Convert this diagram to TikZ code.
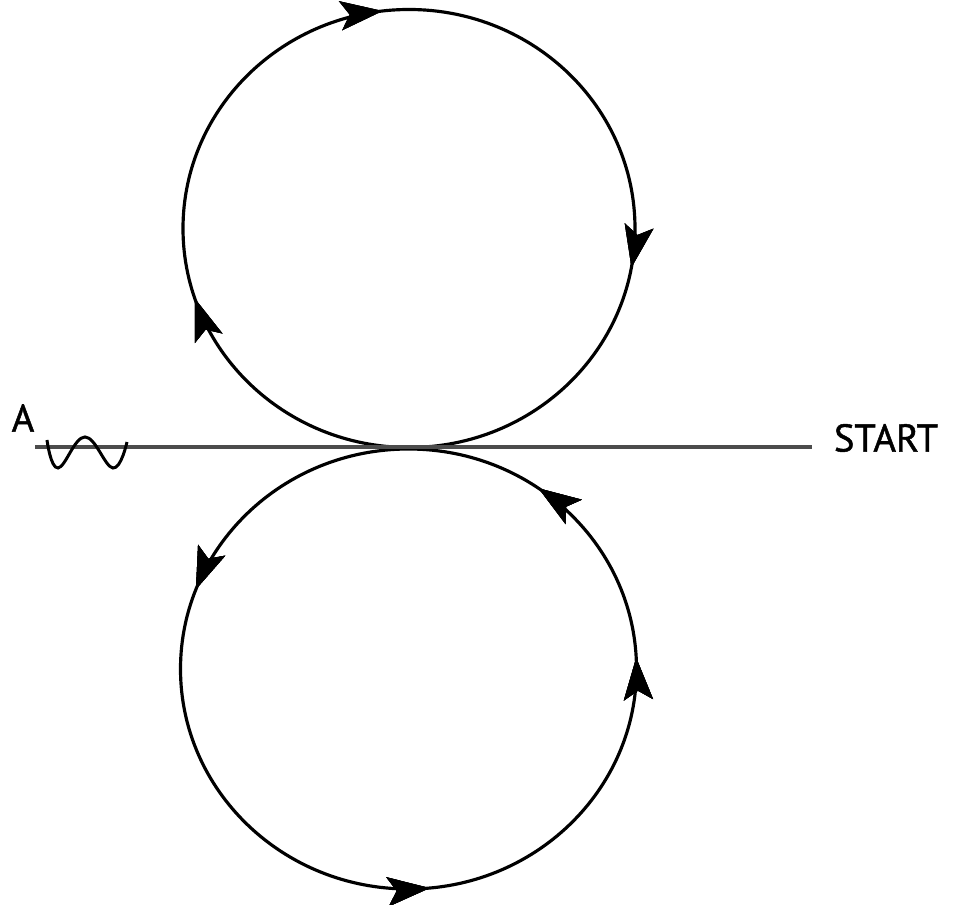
\documentclass[tikz,border=0pt]{standalone}
\usepackage{fontspec}
\newfontfamily\labelfont[FakeBold=1.2]{PT Sans}
\usepackage{tikz}
\usetikzlibrary{arrows.meta, decorations.markings}

\begin{document}
\begin{tikzpicture}[
  x=0.02cm, y=0.02cm,
  loop/.style={line width=1.8pt, black},
  baseline/.style={line width=2.2pt, black!70},
  wave/.style={line width=1.7pt, black},
  tag/.style={font=\labelfont\fontsize{22}{24}\selectfont, inner sep=0pt},
  flow/.style={decoration={markings,
      mark=at position #1 with {\arrow{Stealth[length=8.4mm, width=5.8mm, inset=1.8mm]}}},
    postaction={decorate}}
]
  \useasboundingbox (0,0) rectangle (953,905);

  % Top loop (clockwise)
  \coordinate (topT) at (409,457.5);
  \draw[loop, flow=0.199, flow=0.481, flow=0.778]
    (topT) arc[start angle=270, end angle=-90, x radius=226, y radius=219];

  % Bottom loop (counter-clockwise)
  \coordinate (botT) at (408.5,456);
  \draw[loop, flow=0.192, flow=0.515, flow=0.758, flow=0.902]
    (botT) arc[start angle=90, end angle=450, x radius=228, y radius=220];

  % Line
  \coordinate (lineW) at (35,458);
  \coordinate (lineE) at (812,458);
  \draw[baseline] (lineW) -- (lineE);

  % Wave at A
  \draw[wave] plot[smooth, tension=0.7] coordinates
    {(47,465) (58,437) (85,468) (113,437) (127,463)};

  % Labels
  \node[tag] (a) at (23,487) {A};
  \node[tag] (start) at (886,467) {START};
\end{tikzpicture}
\end{document}
